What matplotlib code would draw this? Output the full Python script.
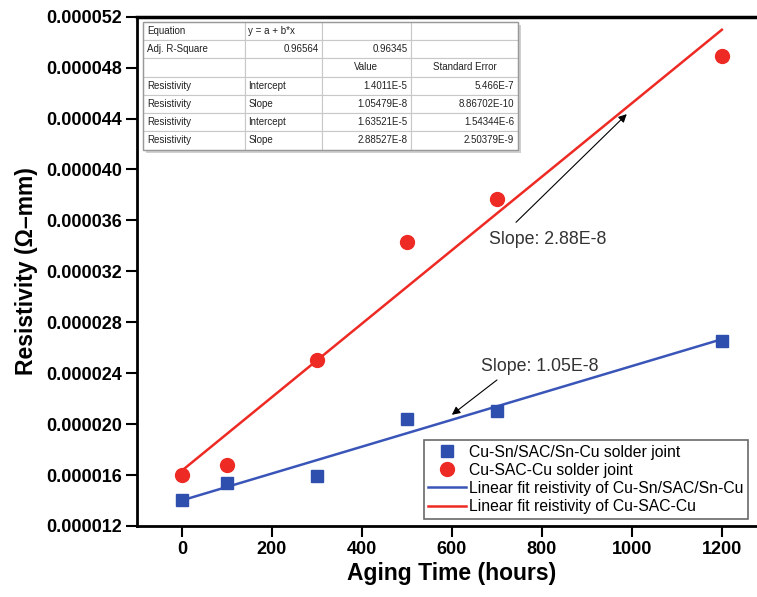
import numpy as np
import matplotlib
matplotlib.use("Agg")
import matplotlib.pyplot as plt
from matplotlib.patches import Rectangle

plt.rcParams['font.family'] = ['Liberation Sans', 'DejaVu Sans']

hours = [0, 100, 300, 500, 700, 1200]
rho_snsac = [14.0e-6, 15.4e-6, 15.9e-6, 20.4e-6, 21.0e-6, 26.5e-6]
rho_sac = [16.0e-6, 16.8e-6, 25.0e-6, 34.3e-6, 37.7e-6, 48.95e-6]

# Fit-Parameter (aus der Tabelle)
icpt_snsac, slope_snsac = 1.4011e-5, 1.05479e-8
icpt_sac, slope_sac = 1.63521e-5, 2.88527e-8

table_rows = [
    ["Equation", "y = a + b*x", "", ""],
    ["Adj. R-Square", "0.96564", "0.96345", ""],
    ["", "", "Value", "Standard Error"],
    ["Resistivity", "Intercept", "1.4011E-5", "5.466E-7"],
    ["Resistivity", "Slope", "1.05479E-8", "8.86702E-10"],
    ["Resistivity", "Intercept", "1.63521E-5", "1.54344E-6"],
    ["Resistivity", "Slope", "2.88527E-8", "2.50379E-9"],
]

yticks = np.arange(12e-6, 52.1e-6, 4e-6)
xticks = [0, 200, 400, 600, 800, 1000, 1200]

blue = '#2f4fae'
red = '#ee2a24'

fig = plt.figure(figsize=(7.57, 5.97), dpi=100)
ax = fig.add_axes([0.181, 0.119, 0.832, 0.853])

xfit = np.array([hours[0], hours[-1]])
ax.plot(hours, rho_snsac, 's', color=blue, markersize=9,
        label='Cu-Sn/SAC/Sn-Cu solder joint', zorder=3)
ax.plot(hours, rho_sac, 'o', color=red, markersize=10,
        label='Cu-SAC-Cu solder joint', zorder=3)
ax.plot(xfit, icpt_snsac + slope_snsac * xfit, '-', color='#3a55b8', lw=1.8,
        label='Linear fit reistivity of Cu-Sn/SAC/Sn-Cu')
ax.plot(xfit, icpt_sac + slope_sac * xfit, '-', color=red, lw=1.8,
        label='Linear fit reistivity of Cu-SAC-Cu')

ax.set_xlim(-100, 1300)
ax.set_ylim(12e-6, 52e-6)
ax.set_xticks(xticks)
ax.set_yticks(yticks)
ax.set_yticklabels([f'{v:.6f}' for v in yticks])
for lab in ax.get_xticklabels() + ax.get_yticklabels():
    lab.set_fontweight('bold')
    lab.set_fontsize(13)
ax.tick_params(direction='out', width=1.5, length=8, pad=3)
for s in ['left', 'bottom']:
    ax.spines[s].set_linewidth(2)
ax.spines['top'].set_linewidth(2.5)
ax.spines['right'].set_visible(False)

ax.set_xlabel('Aging Time (hours)', fontsize=16.5, fontweight='bold', labelpad=3)
ax.set_ylabel('Resistivity (\u03a9\u2013mm)', fontsize=16.5, fontweight='bold',
              labelpad=6)

# Pfeile mit Steigungen
ax.annotate('', xy=(993, 44.5e-6), xytext=(738, 35.7e-6),
            arrowprops=dict(arrowstyle='-|>', color='black', lw=0.8,
                            mutation_scale=12))
ax.text(682, 34.5e-6, 'Slope: 2.88E-8', fontsize=12.8, color='#333333',
        va='center', ha='left')
ax.annotate('', xy=(595, 20.6e-6), xytext=(705, 23.6e-6),
            arrowprops=dict(arrowstyle='-|>', color='black', lw=0.8,
                            mutation_scale=12))
ax.text(664, 24.5e-6, 'Slope: 1.05E-8', fontsize=12.8, color='#333333',
        va='center', ha='left')

leg = ax.legend(loc='lower right', bbox_to_anchor=(0.978, 0.005), fontsize=11.3,
                frameon=True, fancybox=False, edgecolor='#444444',
                handlelength=2.4, handletextpad=0.2, borderpad=0.3,
                labelspacing=0.2, borderaxespad=0.3)
leg.get_frame().set_linewidth(1.2)

# Ergebnistabelle (mit leichtem Schatten)
tb = [0.0095, 0.739, 0.596, 0.251]
ax.add_patch(Rectangle((tb[0] + 0.004, tb[1] - 0.006), tb[2], tb[3],
                       transform=ax.transAxes, facecolor='#d0d0d0',
                       edgecolor='none', zorder=4))
tab = ax.table(cellText=table_rows, colWidths=[103, 77, 90, 108],
               bbox=tb, zorder=5)
tab.auto_set_font_size(False)
tab.set_fontsize(7)
align = [['left', 'left', 'left', 'left'],
         ['left', 'right', 'right', 'left'],
         ['left', 'left', 'center', 'center']] + \
        [['left', 'left', 'right', 'right']] * 4
for (r, c), cell in tab.get_celld().items():
    cell.set_edgecolor('#c8c8c8')
    cell.set_linewidth(0.8)
    cell.set_facecolor('white')
    cell.get_text().set_ha(align[r][c])
    cell.get_text().set_color('#222222')
    cell.PAD = 0.04
ax.add_patch(Rectangle((tb[0], tb[1]), tb[2], tb[3], transform=ax.transAxes,
                       facecolor='none', edgecolor='#999999', lw=1.0, zorder=6))

fig.savefig('out.png', dpi=100)
